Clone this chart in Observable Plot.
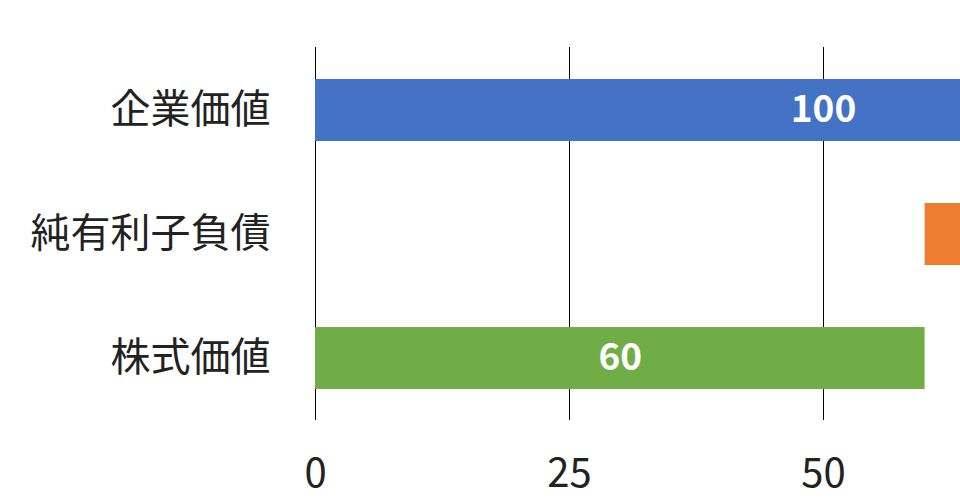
<!DOCTYPE html>
<html><head><meta charset="utf-8">
<script src="https://cdn.jsdelivr.net/npm/d3@7"></script>
<script src="https://cdn.jsdelivr.net/npm/@observablehq/plot@0.6"></script>
<style>
html,body{margin:0;padding:0;background:#fff;overflow:hidden}
#chart{width:960px;height:502px;overflow:hidden}
</style></head>
<body><div id="chart"></div>
<script>
const categories = ["企業価値", "純有利子負債", "株式価値"];
const starts = [0, 60, 0];
const values = [100, 40, 60];
const barLabels = ["100", "", "60"];
const colors = ["#4472C4", "#ED7D31", "#70AD47"];
const xTicks = [0, 25, 50];

const data = categories.map((c, i) => ({cat: c, x1: starts[i], x2: starts[i] + values[i], label: barLabels[i], color: colors[i]}));
const font = "'Noto Sans CJK JP', 'Noto Sans', sans-serif";

const plot = Plot.plot({
  width: 960, height: 502,
  marginTop: 47, marginBottom: 82, marginLeft: 315, marginRight: 0,
  style: {fontFamily: font, background: "#fff"},
  x: {domain: [0, 100], range: [315, 1331]},
  y: {domain: categories, paddingInner: 0.5, paddingOuter: 0.25},
  marks: [
    Plot.gridX(xTicks, {stroke: "#000", strokeOpacity: 1, strokeWidth: 1}),
    Plot.barX(data, {y: "cat", x1: "x1", x2: "x2", fill: "color"}),
    Plot.text(data.filter(d => d.label), {y: "cat", x: d => (d.x1 + d.x2) / 2, text: "label", fill: "white", fontSize: 37, fontWeight: "bold", textAnchor: "middle", lineAnchor: "middle"}),
    Plot.axisX(xTicks, {tickSize: 0, tickPadding: 38, fontSize: 40, fill: "#222", tickFormat: d => String(d)}),
    Plot.axisY({tickSize: 0, tickPadding: 45, fontSize: 40, fill: "#222", label: null})
  ]
});
document.getElementById("chart").appendChild(plot);
</script></body></html>
